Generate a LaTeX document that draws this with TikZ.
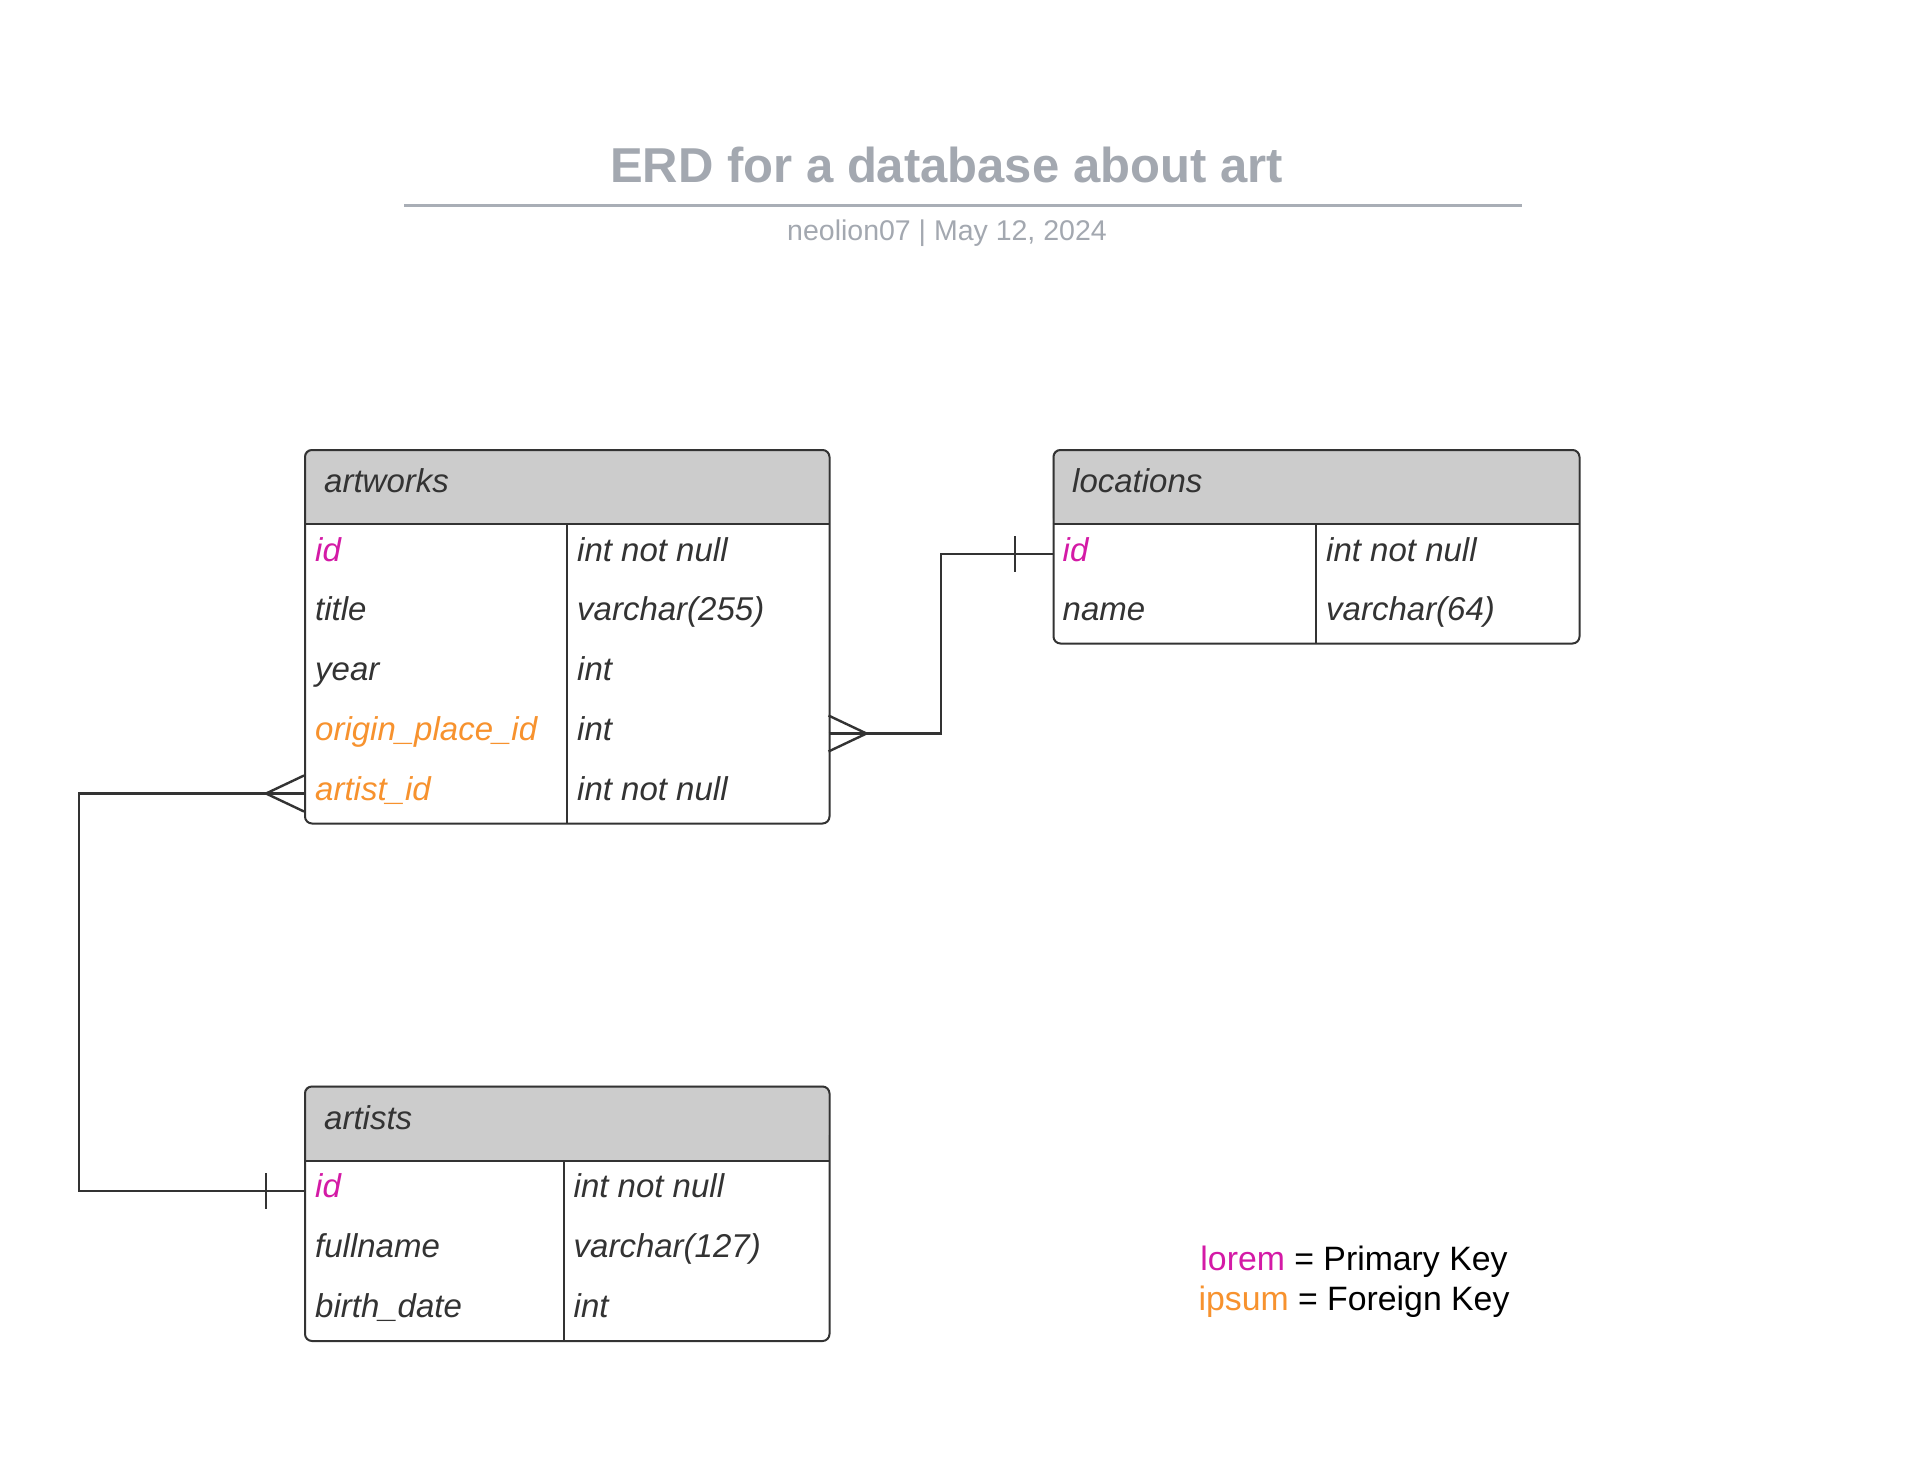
\documentclass[tikz,border=0pt]{standalone}
\usepackage{fontspec}
\setmainfont{Liberation Sans}
\definecolor{ttlgray}{HTML}{A3A8B0}
\definecolor{rulegray}{HTML}{A9AEB6}
\definecolor{hdrfill}{HTML}{CCCCCC}
\definecolor{bordr}{HTML}{333333}
\definecolor{txt}{HTML}{333333}
\definecolor{pk}{HTML}{D41AA6}
\definecolor{fk}{HTML}{F7922E}
\begin{document}
\begin{tikzpicture}[x=1pt,y=-1pt,
  tbl/.style={draw=bordr, line width=2pt, rounded corners=7pt, inner sep=0pt, anchor=north west},
  hdr/.style={fill=hdrfill},
  sep/.style={draw=bordr, line width=2pt},
  cell/.style={anchor=base west, inner sep=0pt, font=\fontsize{33}{40}\selectfont\itshape, text=txt},
  conn/.style={draw=bordr, line width=2.4pt},
  legend/.style={anchor=base, inner sep=0pt, font=\fontsize{33.8}{40}\selectfont}]
\useasboundingbox (0,0) rectangle (1911,1457);
\fill[white] (0,0) rectangle (1911,1457);

% title
\node[anchor=base, inner sep=0pt, text=ttlgray, font=\fontsize{49}{58}\selectfont\bfseries] (title) at (946.5,182.8) {ERD for a database about art};
\draw[rulegray, line width=3.5pt] (404,205.5) -- (1522,205.5);
\node[anchor=base, inner sep=0pt, text=ttlgray, font=\fontsize{28.5}{34}\selectfont] (subtitle) at (947,240) {neolion07 | May 12, 2024};

% ---------- artworks ----------
\fill[hdr, rounded corners=7pt] (304,449) rectangle (828.5,524);
\fill[hdr] (304,500) rectangle (828.5,524);
\node[tbl, minimum width=524.5pt, minimum height=373.5pt] (artworks) at (304,449) {};
\draw[sep] (304,524) -- (828.5,524);
\draw[sep] (567,524) -- (567,822.5);
\node[cell] (awh) at (324,492) {artworks};
\node[cell, text=pk] (aw1) at (315,561) {id};
\node[cell] (aw1t) at (577,561) {int not null};
\node[cell] (aw2) at (315,620.5) {title};
\node[cell] (aw2t) at (577,620.5) {varchar(255)};
\node[cell] (aw3) at (315,680) {year};
\node[cell] (aw3t) at (577,680) {int};
\node[cell, text=fk] (aw4) at (315,740) {origin\_place\_id};
\node[cell] (aw4t) at (577,740) {int};
\node[cell, text=fk] (aw5) at (315,800.5) {artist\_id};
\node[cell] (aw5t) at (577,800.5) {int not null};

% ---------- locations ----------
\fill[hdr, rounded corners=7pt] (1052.5,449) rectangle (1578.5,524);
\fill[hdr] (1052.5,500) rectangle (1578.5,524);
\node[tbl, minimum width=526pt, minimum height=193.5pt] (locations) at (1052.5,449) {};
\draw[sep] (1052.5,524) -- (1578.5,524);
\draw[sep] (1316,524) -- (1316,642.5);
\node[cell] (loh) at (1072,492) {locations};
\node[cell, text=pk] (lo1) at (1062.5,561) {id};
\node[cell] (lo1t) at (1326,561) {int not null};
\node[cell] (lo2) at (1062.5,620.5) {name};
\node[cell] (lo2t) at (1326,620.5) {varchar(64)};

% ---------- artists ----------
\fill[hdr, rounded corners=7pt] (304,1085.5) rectangle (828.5,1160.5);
\fill[hdr] (304,1135) rectangle (828.5,1160.5);
\node[tbl, minimum width=524.5pt, minimum height=254.5pt] (artists) at (304,1085.5) {};
\draw[sep] (304,1160.5) -- (828.5,1160.5);
\draw[sep] (563.5,1160.5) -- (563.5,1340);
\node[cell] (arh) at (324,1129.5) {artists};
\node[cell, text=pk] (ar1) at (315,1197.5) {id};
\node[cell] (ar1t) at (573.5,1197.5) {int not null};
\node[cell] (ar2) at (315,1257.3) {fullname};
\node[cell] (ar2t) at (573.5,1257.3) {varchar(127)};
\node[cell] (ar3) at (315,1317) {birth\_date};
\node[cell] (ar3t) at (573.5,1317) {int};

% ---------- connectors ----------
\coordinate (awR) at (828.5,733.5);
\coordinate (loL) at (1052.5,554);
\coordinate (awL) at (304,793.5);
\coordinate (arL) at (304,1191);
\coordinate (elbowR) at (941,733.5);
\coordinate (elbowL) at (79,793.5);

% artworks.origin_place_id  >--|  locations.id
\draw[conn] (awR) -- (elbowR) |- (loL);
\draw[conn] (828.5,715.5) -- (866.5,733.5) -- (828.5,751.5);
\draw[conn] (1015,536) -- (1015,572);

% artworks.artist_id  >--|  artists.id
\draw[conn] (awL) -- (elbowL) |- (arL);
\draw[conn] (304,775.5) -- (266,793.5) -- (304,811.5);
\draw[conn] (266,1173) -- (266,1209);

% ---------- legend ----------
\node[legend] (lg1) at (1354,1270.5) {\textcolor{pk}{lorem} = Primary Key};
\node[legend] (lg2) at (1354,1310) {\textcolor{fk}{ipsum} = Foreign Key};
\end{tikzpicture}
\end{document}
